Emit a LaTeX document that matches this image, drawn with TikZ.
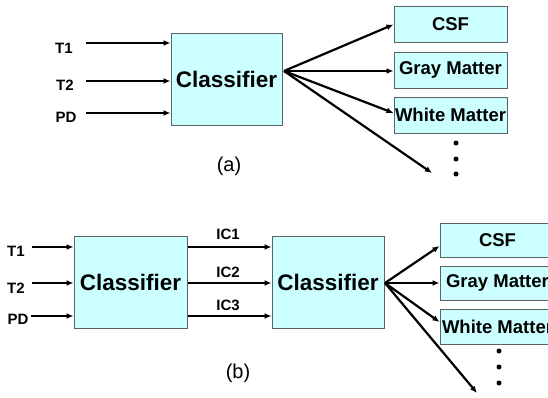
\documentclass[tikz,border=0pt]{standalone}
\usepackage{fontspec}
\setmainfont{Liberation Sans}
\usetikzlibrary{arrows.meta}
\definecolor{boxfill}{HTML}{CCFFFF}
\definecolor{boxline}{HTML}{5A6464}
\begin{document}
\begin{tikzpicture}[x=1pt,y=-1pt,
  box/.style={draw=boxline,line width=1pt,fill=boxfill,inner sep=0pt,anchor=center},
  clsbox/.style={box,minimum width=112pt,minimum height=92pt,font=\fontsize{22.5}{24}\selectfont\bfseries},
  outbox/.style={box,minimum width=113pt,minimum height=36pt,font=\fontsize{18.5}{20}\selectfont\bfseries},
  inlab/.style={inner sep=0pt,font=\fontsize{15}{16}\selectfont\bfseries},
  caplab/.style={inner sep=0pt,font=\fontsize{20}{22}\selectfont},
  arr/.style={line width=2.2pt,-{Latex[length=7pt,width=6pt]}},
  dot/.style={circle,fill=black,inner sep=0pt,minimum size=5pt}]
\useasboundingbox (0,0) rectangle (548,397);
\clip (0,0) rectangle (548,397);
\fill[white] (0,0) rectangle (548,397);
% ---------- (a) ----------
\node[clsbox,minimum width=111pt] (ca) at (226.5,79) {Classifier};
\node[outbox] (csfa) at (450.5,24.5) {CSF};
\node[outbox] (gma) at (450.5,70) {Gray Matter};
\node[outbox] (wma) at (450.5,115) {White Matter};
\node[inlab] (t1a) at (64,48) {T1};
\node[inlab] (t2a) at (65,85) {T2};
\node[inlab] (pda) at (66,117) {PD};
\coordinate (t1as) at (86,43);
\coordinate (t2as) at (86,81);
\coordinate (pdas) at (86,113);
\draw[arr] (t1as) -- (ca.west |- t1as);
\draw[arr] (t2as) -- (ca.west |- t2as);
\draw[arr] (pdas) -- (ca.west |- pdas);
\coordinate (fa) at (284,71);
\coordinate (enda) at (432,173);
\draw[arr] (fa) -- (csfa.west);
\draw[arr] (fa) -- (gma.west |- fa);
\draw[arr] (fa) -- (wma.west |- 0,113);
\draw[arr] (fa) -- (enda);
\node[dot] (da1) at (456,143) {};
\node[dot] (da2) at (456,159) {};
\node[dot] (da3) at (456,174) {};
\node[caplab] (capa) at (229,166) {(a)};
% ---------- (b) ----------
\node[clsbox,minimum width=113pt] (cb1) at (130.5,282) {Classifier};
\node[clsbox] (cb2) at (328,282) {Classifier};
\node[outbox,minimum width=115pt,minimum height=34pt] (csfb) at (497.5,240) {CSF};
\node[outbox,minimum width=115pt,minimum height=34pt] (gmb) at (497.5,283) {Gray Matter};
\node[outbox,minimum width=115pt,minimum height=35pt] (wmb) at (497.5,326.5) {White Matter};
\node[inlab] (t1b) at (16,251) {T1};
\node[inlab] (t2b) at (16,288) {T2};
\node[inlab] (pdb) at (18,319) {PD};
\coordinate (t1bs) at (32,247);
\coordinate (t2bs) at (32,283);
\coordinate (pdbs) at (31,316);
\draw[arr] (t1bs) -- (cb1.west |- t1bs);
\draw[arr] (t2bs) -- (cb1.west |- t2bs);
\draw[arr] (pdbs) -- (cb1.west |- pdbs);
\draw[arr] (cb1.east |- t1bs) -- (cb2.west |- t1bs);
\draw[arr] (cb1.east |- t2bs) -- (cb2.west |- t2bs);
\draw[arr] (cb1.east |- pdbs) -- (cb2.west |- pdbs);
\node[inlab] (ic1) at (228,234) {IC1};
\node[inlab] (ic2) at (228,272) {IC2};
\node[inlab] (ic3) at (228,305) {IC3};
\coordinate (fb) at (385,283);
\coordinate (endb) at (477,393);
\draw[arr] (fb) -- (csfb.west |- 0,246);
\draw[arr] (fb) -- (gmb.west |- fb);
\draw[arr] (fb) -- (wmb.west |- 0,322);
\draw[arr] (fb) -- (endb);
\node[dot] (db1) at (499,351) {};
\node[dot] (db2) at (499,367) {};
\node[dot] (db3) at (499,383) {};
\node[caplab] (capb) at (238,373) {(b)};
\end{tikzpicture}
\end{document}
